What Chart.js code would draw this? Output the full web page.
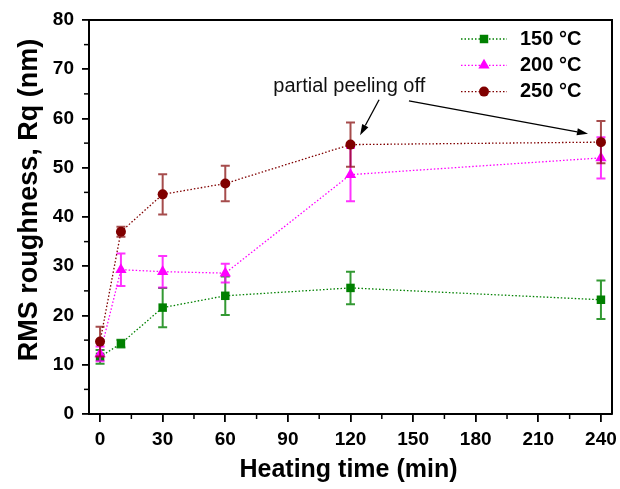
<!DOCTYPE html>
<html>
<head>
<meta charset="utf-8">
<script src="https://cdn.jsdelivr.net/npm/chart.js@4/dist/chart.umd.min.js"></script>
<style>
  body { margin: 0; background: #fff; }
  #wrap { width: 620px; height: 489px; }
</style>
</head>
<body>
<div id="wrap"><canvas id="myChart" width="620" height="489"></canvas></div>
<script>
// 데이터
const timeMin = [0, 10, 30, 60, 120, 240];
const rq150 = [11.6, 14.3, 21.6, 24.0, 25.6, 23.2];
const err150 = [1.4, 0.8, 4.0, 3.9, 3.3, 3.9];
const rq200 = [12.2, 29.3, 28.9, 28.6, 48.6, 52.0];
const err200 = [1.5, 3.3, 3.2, 1.9, 5.4, 4.2];
const rq250 = [14.7, 37.0, 44.6, 46.8, 54.7, 55.2];
const err250 = [3.0, 1.0, 4.1, 3.6, 4.5, 4.3];
const seriesLabels = ['150 °C', '200 °C', '250 °C'];
const xTicks = [0, 30, 60, 90, 120, 150, 180, 210, 240];
const xMinorTicks = [15, 45, 75, 105, 135, 165, 195, 225];
const yTicks = [0, 10, 20, 30, 40, 50, 60, 70, 80];
const yMinorTicks = [5, 15, 25, 35, 45, 55, 65, 75];
const xTitle = 'Heating time (min)';
const yTitle = 'RMS roughness, Rq (nm)';
const noteText = 'partial peeling off';

const FONT = '"Liberation Sans", Arial, sans-serif';

/**
 * x, y 배열을 {x, y} 로 묶기
 * @param {number[]} ys
 */
function toPoints(ys){
  return timeMin.map((t, i) => ({ x: t, y: ys[i] }));
}

/**
 * 시리즈 하나 만들기
 */
function makeSet(label, ys, errs, color, errColor, style, radius, order){
  return {
    label: label,
    data: toPoints(ys),
    errors: errs,
    errColor: errColor,
    borderColor: color,
    backgroundColor: color,
    borderWidth: 1.3,
    borderDash: [1.5, 2],
    pointStyle: style,
    pointRadius: radius,
    pointBorderWidth: 0,
    pointBackgroundColor: color,
    tension: 0,
    order: order
  };
}

const datasets = [
  makeSet(seriesLabels[0], rq150, err150, '#008000', 'rgba(0,128,0,0.8)', 'rect', 6, 3),
  makeSet(seriesLabels[1], rq200, err200, '#ff00ff', 'rgba(255,0,255,0.8)', 'triangle', 6.5, 2),
  makeSet(seriesLabels[2], rq250, err250, '#800000', 'rgba(128,0,0,0.7)', 'circle', 5, 1)
];

// 에러바: 각 시리즈 그리기 직전에
const errorBarPlugin = {
  id: 'errorBars',
  beforeDatasetDraw(chart, args){
    const ds = chart.data.datasets[args.index];
    const xs = chart.scales.x;
    const ys = chart.scales.y;
    const ctx = chart.ctx;
    ctx.save();
    ctx.strokeStyle = ds.errColor;
    ctx.lineWidth = 2;
    ds.errors.forEach((e, i) => {
      const px = xs.getPixelForValue(ds.data[i].x);
      const top = ys.getPixelForValue(ds.data[i].y + e);
      const bot = ys.getPixelForValue(ds.data[i].y - e);
      ctx.beginPath();
      ctx.moveTo(px, top); ctx.lineTo(px, bot);
      ctx.moveTo(px - 4.5, top); ctx.lineTo(px + 4.5, top);
      ctx.moveTo(px - 4.5, bot); ctx.lineTo(px + 4.5, bot);
      ctx.stroke();
    });
    ctx.restore();
  }
};

/**
 * 화살표
 */
function drawArrow(ctx, x1, y1, x2, y2){
  const ang = Math.atan2(y2 - y1, x2 - x1);
  const len = 11, half = 3.5;
  const bx = x2 - Math.cos(ang) * len;
  const by = y2 - Math.sin(ang) * len;
  ctx.beginPath();
  ctx.moveTo(x1, y1);
  ctx.lineTo(bx, by);
  ctx.stroke();
  ctx.beginPath();
  ctx.moveTo(x2, y2);
  ctx.lineTo(bx - Math.sin(ang) * half, by + Math.cos(ang) * half);
  ctx.lineTo(bx + Math.sin(ang) * half, by - Math.cos(ang) * half);
  ctx.closePath();
  ctx.fill();
}

// 프레임, 보조 눈금, 축 제목, 범례, 주석
const decorPlugin = {
  id: 'decor',
  afterDraw(chart){
    const ctx = chart.ctx;
    const a = chart.chartArea;
    const xs = chart.scales.x;
    const ys = chart.scales.y;
    ctx.save();
    ctx.strokeStyle = '#000';
    ctx.lineWidth = 2;
    ctx.beginPath();
    ctx.moveTo(a.left, a.top);
    ctx.lineTo(a.right, a.top);
    ctx.lineTo(a.right, a.bottom);
    ctx.stroke();

    ctx.lineWidth = 1.5;
    xMinorTicks.forEach(v => {
      const px = xs.getPixelForValue(v);
      ctx.beginPath();
      ctx.moveTo(px, a.bottom);
      ctx.lineTo(px, a.bottom + 5);
      ctx.stroke();
    });
    yMinorTicks.forEach(v => {
      const py = ys.getPixelForValue(v);
      ctx.beginPath();
      ctx.moveTo(a.left, py);
      ctx.lineTo(a.left - 5, py);
      ctx.stroke();
    });

    // 축 제목
    ctx.fillStyle = '#000';
    ctx.textAlign = 'center';
    ctx.textBaseline = 'middle';
    ctx.font = `bold 25px ${FONT}`;
    ctx.fillText(xTitle, (a.left + a.right) / 2 - 2, 470);
    ctx.save();
    ctx.font = `bold 27px ${FONT}`;
    ctx.translate(30, 200);
    ctx.rotate(-Math.PI / 2);
    ctx.fillText(yTitle, 0, 0);
    ctx.restore();

    // 범례
    chart.data.datasets.forEach((ds, i) => {
      const ry = a.top + 19 + i * 26.3;
      ctx.save();
      ctx.strokeStyle = ds.borderColor;
      ctx.lineWidth = 1.3;
      ctx.setLineDash([1.5, 2]);
      ctx.beginPath();
      ctx.moveTo(461, ry);
      ctx.lineTo(507, ry);
      ctx.stroke();
      ctx.restore();
      ctx.fillStyle = ds.pointBackgroundColor;
      Chart.helpers.drawPoint(ctx, { pointStyle: ds.pointStyle, radius: ds.pointRadius, rotation: 0, borderWidth: 0 }, 484, ry);
      ctx.fillStyle = '#000';
      ctx.font = `bold 20px ${FONT}`;
      ctx.textAlign = 'left';
      ctx.fillText(ds.label, 520, ry);
    });

    // 주석 텍스트와 화살표 (데이터 좌표)
    ctx.font = `20px ${FONT}`;
    ctx.textAlign = 'left';
    ctx.textBaseline = 'alphabetic';
    ctx.fillStyle = '#111';
    ctx.fillText(noteText, xs.getPixelForValue(83), ys.getPixelForValue(65.4));
    ctx.strokeStyle = '#000';
    ctx.fillStyle = '#000';
    ctx.lineWidth = 1.3;
    drawArrow(ctx, xs.getPixelForValue(133.7), ys.getPixelForValue(63.8), xs.getPixelForValue(124.6), ys.getPixelForValue(56.6));
    drawArrow(ctx, xs.getPixelForValue(148), ys.getPixelForValue(63.6), xs.getPixelForValue(233.8), ys.getPixelForValue(56.9));
    ctx.restore();
  }
};

window.onload = () => {
  drawRoughness();
};

function drawRoughness(){
  const ctx = document.getElementById('myChart').getContext('2d');
  let myChart = new Chart(ctx, {
    type: 'line',
    data: { datasets: datasets },
    options: {
      responsive: false,
      animation: false,
      events: [],
      layout: { padding: { top: 20, right: 8, left: 0, bottom: 0 } },
      plugins: { legend: { display: false }, tooltip: { enabled: false } },
      scales: {
        x: {
          type: 'linear',
          min: -5.3,
          max: 245.3,
          afterBuildTicks: s => { s.ticks = xTicks.map(v => ({ value: v })); },
          afterFit: s => { s.height = 75; s.paddingLeft = 0; s.paddingRight = 0; },
          ticks: { font: { family: FONT, size: 19, weight: 'bold' }, color: '#000', padding: 6, maxRotation: 0 },
          grid: { drawOnChartArea: false, tickLength: 8, color: '#000', lineWidth: 1.8 },
          border: { color: '#000', width: 2 }
        },
        y: {
          min: 0,
          max: 80,
          afterBuildTicks: s => { s.ticks = yTicks.map(v => ({ value: v })); },
          afterFit: s => { s.width = 89; s.paddingTop = 0; s.paddingBottom = 0; },
          ticks: { font: { family: FONT, size: 19, weight: 'bold' }, color: '#000', padding: 8 },
          grid: { drawOnChartArea: false, tickLength: 7, color: '#000', lineWidth: 1.8 },
          border: { color: '#000', width: 2 }
        }
      }
    },
    plugins: [errorBarPlugin, decorPlugin]
  });
}
</script>
</body>
</html>
